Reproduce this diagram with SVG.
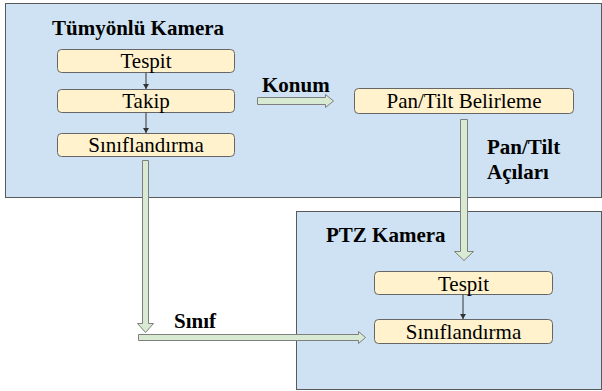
<svg xmlns="http://www.w3.org/2000/svg" width="602" height="391" viewBox="0 0 602 391">
<defs>
<marker id="ah" markerWidth="6" markerHeight="6" refX="5" refY="3" orient="auto" markerUnits="userSpaceOnUse">
<path d="M0,0 L5,3 L0,6 z" fill="#333"/>
</marker>
</defs>
<g id="panel-omni">
<rect x="5.5" y="3.5" width="596" height="194" fill="#cfe2f3" stroke="#595959"/>
<text x="52" y="35" style="font-family:'Liberation Serif',serif;font-size:21px;font-weight:bold" fill="#000">Tümyönlü Kamera</text>
</g>
<g id="panel-ptz">
<rect x="296.5" y="211.5" width="305" height="178" fill="#cfe2f3" stroke="#595959"/>
<text x="326" y="242" style="font-family:'Liberation Serif',serif;font-size:21px;font-weight:bold" fill="#000">PTZ Kamera</text>
</g>
<g id="tespit1">
<rect x="57.5" y="49.5" width="177" height="23" rx="4" fill="#fff2cc" stroke="#666"/>
<text x="146" y="68" style="font-family:'Liberation Serif',serif;font-size:21px" text-anchor="middle" fill="#000">Tespit</text>
</g>
<g id="takip">
<rect x="57.5" y="89.5" width="177" height="23" rx="4" fill="#fff2cc" stroke="#666"/>
<text x="146" y="108" style="font-family:'Liberation Serif',serif;font-size:21px" text-anchor="middle" fill="#000">Takip</text>
</g>
<g id="sinif1">
<rect x="57.5" y="133.5" width="177" height="23" rx="4" fill="#fff2cc" stroke="#666"/>
<text x="146" y="152" style="font-family:'Liberation Serif',serif;font-size:21px" text-anchor="middle" fill="#000">Sınıflandırma</text>
</g>
<g id="pantilt">
<rect x="354.5" y="88.5" width="219" height="25" rx="4" fill="#fff2cc" stroke="#666"/>
<text x="464" y="108" style="font-family:'Liberation Serif',serif;font-size:21px" text-anchor="middle" fill="#000">Pan/Tilt Belirleme</text>
</g>
<g id="tespit2">
<rect x="374.5" y="271.5" width="178" height="23" rx="4" fill="#fff2cc" stroke="#666"/>
<text x="463.5" y="291" style="font-family:'Liberation Serif',serif;font-size:21px" text-anchor="middle" fill="#000">Tespit</text>
</g>
<g id="sinif2">
<rect x="374.5" y="319.5" width="178" height="24" rx="4" fill="#fff2cc" stroke="#666"/>
<text x="463.5" y="339" style="font-family:'Liberation Serif',serif;font-size:21px" text-anchor="middle" fill="#000">Sınıflandırma</text>
</g>
<g id="connectors">
<line x1="146" y1="72.5" x2="146" y2="89" stroke="#333" marker-end="url(#ah)"/>
<line x1="146" y1="112.5" x2="146" y2="133" stroke="#333" marker-end="url(#ah)"/>
<line x1="463" y1="294.5" x2="463" y2="319" stroke="#333" marker-end="url(#ah)"/>
<polygon points="257.5,97.5 325.5,97.5 325.5,94.5 333.5,101 325.5,107.5 325.5,104.5 257.5,104.5" fill="#d9ead3" stroke="#7f7f7f"/>
<polygon points="460.5,119.5 467.5,119.5 467.5,251.5 473.5,251.5 464,260.5 454.5,251.5 460.5,251.5" fill="#d9ead3" stroke="#7f7f7f"/>
<polygon points="142.5,160.5 148.5,160.5 148.5,323.5 153.5,323.5 145.5,332.5 137.5,323.5 142.5,323.5" fill="#d9ead3" stroke="#7f7f7f"/>
<polygon points="138.5,334.5 358.5,334.5 358.5,331.5 365.5,337.5 358.5,343.5 358.5,340.5 138.5,340.5" fill="#d9ead3" stroke="#7f7f7f"/>
<text x="262" y="92" style="font-family:'Liberation Serif',serif;font-size:21px;font-weight:bold" fill="#000">Konum</text>
<text x="487" y="154" style="font-family:'Liberation Serif',serif;font-size:21px;font-weight:bold" fill="#000">Pan/Tilt</text>
<text x="487" y="179" style="font-family:'Liberation Serif',serif;font-size:21px;font-weight:bold" fill="#000">Açıları</text>
<text x="174" y="328" style="font-family:'Liberation Serif',serif;font-size:21px;font-weight:bold" fill="#000">Sınıf</text>
</g>
</svg>
